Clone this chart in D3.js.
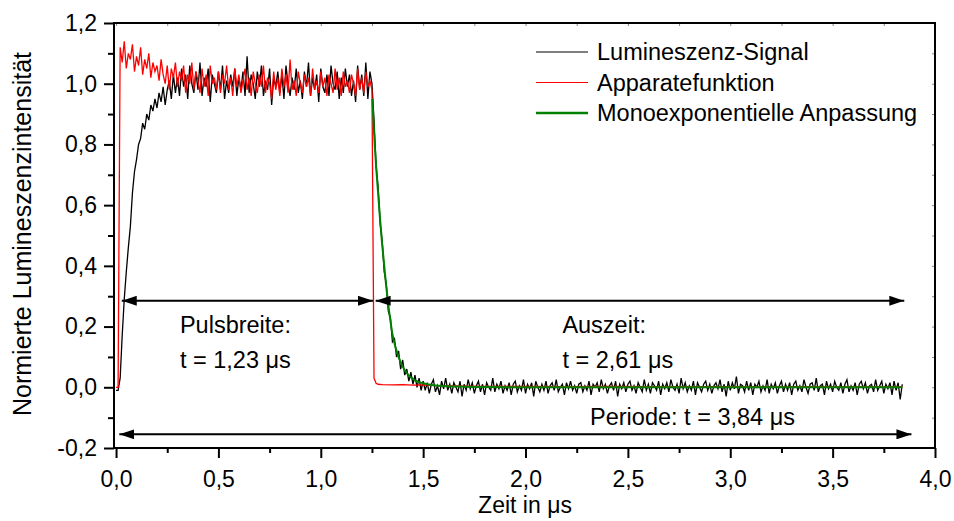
<!DOCTYPE html>
<html>
<head>
<meta charset="utf-8">
<script src="https://cdn.jsdelivr.net/npm/d3@7"></script>
<style>
    body { margin: 0; background: #fff; }
    svg { display: block; }
    text { font-family: "Liberation Sans", Arial, sans-serif; fill: #000; }
</style>
</head>
<body>
<svg id="chart" width="954" height="521"></svg>
<script>
// Abtastschritt der Messkurven (µs)
const timeStep = 0.01;

// Lumineszenz-Signal, t = 0,00 ... 3,84 µs
const signalValues = [
    -0.01, -0.01, 0.03, 0.17, 0.29, 0.38, 0.46, 0.53, 0.64, 0.71,
    0.75, 0.80, 0.82, 0.87, 0.85, 0.90, 0.88, 0.93, 0.91, 0.95,
    0.92, 0.97, 0.94, 0.99, 0.93, 0.98, 1.01, 0.95, 1.03, 0.97,
    1.02, 0.96, 1.05, 0.99, 1.03, 0.95, 1.06, 1.00, 0.97, 1.04,
    0.98, 1.07, 0.96, 1.02, 0.99, 1.05, 0.94, 1.03, 1.00, 0.97,
    1.04, 0.98, 1.06, 0.95, 1.01, 0.97, 1.03, 0.99, 1.05, 0.96,
    1.02, 0.98, 1.04, 0.96, 1.09, 0.97, 1.03, 1.00, 0.95, 1.04,
    0.99, 1.06, 0.96, 1.01, 0.98, 1.05, 0.93, 1.02, 0.99, 1.04,
    0.97, 1.03, 0.95, 1.06, 1.00, 0.96, 1.02, 0.98, 1.05, 0.97,
    1.01, 0.95, 1.04, 0.99, 1.07, 0.96, 1.02, 0.98, 1.03, 0.94,
    1.05, 0.99, 0.97, 1.03, 0.96, 1.06, 1.00, 0.98, 1.04, 0.95,
    1.02, 0.97, 1.05, 0.99, 1.03, 0.96, 1.01, 0.94, 1.06, 0.98,
    1.03, 0.96, 1.07, 0.95, 1.04, 1.00, 0.88, 0.73, 0.66, 0.54,
    0.48, 0.38, 0.34, 0.25, 0.23, 0.15, 0.16, 0.10, 0.12, 0.06,
    0.09, 0.04, 0.06, 0.02, 0.05, 0.01, 0.04, 0.00, 0.03, -0.01,
    0.02, -0.01, 0.015, -0.02, 0.01, 0.025, -0.015, 0.005, -0.025, 0.02,
    -0.005, 0.03, -0.01, 0.01, -0.02, 0.015, 0.0, -0.015, 0.02, -0.03,
    0.01, -0.01, 0.025, -0.005, 0.015, -0.02, 0.005, 0.02, -0.015, 0.01,
    -0.025, 0.015, 0.0, -0.01, 0.03, -0.015, 0.01, -0.005, 0.02, -0.02,
    0.005, -0.01, 0.015, -0.025, 0.01, 0.02, -0.015, 0.005, -0.01, 0.025,
    -0.02, 0.01, -0.005, 0.015, -0.03, 0.02, 0.0, -0.015, 0.01, -0.01,
    0.02, -0.02, 0.005, 0.015, -0.01, 0.025, -0.015, 0.0, 0.01, -0.025,
    0.015, -0.005, 0.02, -0.01, 0.005, -0.02, 0.01, 0.015, -0.015, 0.005,
    -0.01, 0.02, -0.025, 0.01, 0.0, 0.015, -0.015, 0.025, -0.005, 0.01,
    -0.02, 0.005, 0.015, -0.01, 0.02, -0.03, 0.01, -0.005, 0.015, -0.015,
    0.01, 0.02, -0.01, 0.005, -0.02, 0.015, 0.0, -0.015, 0.025, -0.01,
    0.01, -0.02, 0.015, 0.005, -0.01, 0.02, -0.025, 0.01, -0.005, 0.015,
    -0.015, 0.025, 0.0, -0.01, 0.01, -0.02, 0.03, -0.005, 0.015, -0.015,
    0.005, -0.01, 0.02, -0.025, 0.015, 0.0, -0.015, 0.01, 0.02, -0.01,
    0.01, -0.02, 0.005, 0.015, -0.005, 0.025, -0.015, 0.01, -0.03, 0.02,
    -0.01, 0.015, -0.005, 0.035, -0.02, 0.01, 0.005, -0.015, 0.02, -0.01,
    0.015, -0.025, 0.01, 0.0, 0.02, -0.015, 0.005, -0.01, 0.025, -0.02,
    0.01, -0.005, 0.015, -0.02, 0.005, 0.02, -0.015, 0.01, -0.01, 0.015,
    -0.025, 0.01, 0.02, -0.01, 0.005, -0.015, 0.025, 0.0, -0.02, 0.01,
    0.015, -0.01, 0.03, -0.015, 0.005, 0.01, -0.025, 0.02, -0.005, 0.01,
    -0.015, 0.02, 0.0, -0.01, 0.015, -0.02, 0.01, 0.025, -0.015, 0.005,
    -0.01, 0.015, -0.025, 0.01, 0.02, -0.005, 0.015, -0.02, 0.005, 0.01,
    -0.015, 0.025, -0.01, 0.005, 0.02, -0.02, 0.01, -0.005, 0.015, -0.025,
    0.02, -0.01, 0.015, -0.04, 0.01
];

// Apparatefunktion, t = 0,00 ... 1,25 µs
const apparatusValues = [
    0.0, 0.0, 1.12, 1.07, 1.14, 1.05, 1.10, 1.08, 1.13, 1.04,
    1.09, 1.06, 1.12, 1.03, 1.08, 1.05, 1.10, 1.02, 1.07, 1.04,
    1.06, 1.01, 1.08, 1.03, 1.00, 1.06, 0.98, 1.05, 1.02, 1.07,
    0.99, 1.04, 1.01, 1.06, 0.97, 1.03, 1.00, 1.07, 0.98, 1.04,
    1.01, 0.97, 1.05, 0.99, 1.03, 0.96, 1.06, 1.00, 1.02, 0.98,
    1.04, 0.97, 1.03, 1.00, 1.06, 0.98, 1.02, 0.96, 1.05, 0.99,
    1.03, 0.97, 1.01, 1.05, 0.98, 1.02, 0.96, 1.04, 1.00, 0.97,
    1.03, 0.99, 1.06, 0.97, 1.02, 1.00, 0.95, 1.04, 0.98, 1.02,
    0.96, 1.05, 0.99, 1.03, 0.97, 1.08, 0.98, 1.01, 0.96, 1.04,
    1.00, 0.97, 1.03, 0.99, 1.02, 0.96, 1.05, 0.98, 1.01, 0.97,
    1.04, 0.99, 1.02, 0.96, 1.03, 1.00, 0.97, 1.05, 0.98, 1.02,
    0.96, 1.04, 0.99, 1.01, 0.97, 1.03, 1.00, 0.96, 1.05, 0.98,
    1.02, 0.97, 1.04, 0.99, 1.01, 0.98
];
// Abfall der Apparatefunktion nach dem Puls
const apparatusTailTimes = [1.26, 1.27, 1.28, 1.30, 1.35, 1.40, 1.45, 1.50, 1.55, 1.60, 1.70, 1.80, 2.0, 2.2, 2.4, 2.6, 2.8, 3.0, 3.2, 3.4, 3.6, 3.84];
const apparatusTailValues = [0.03, 0.013, 0.010, 0.009, 0.008, 0.009, 0.007, 0.008, 0.006, 0.005, 0.004, 0.003, 0.003, 0.002, 0.003, 0.002, 0.002, 0.002, 0.001, 0.002, 0.001, 0.001];

// Monoexponentielle Anpassung
const fitTimes = [1.252, 1.26, 1.27, 1.28, 1.29, 1.30, 1.31, 1.32, 1.33, 1.34, 1.35, 1.36, 1.37, 1.38, 1.39, 1.40, 1.42, 1.44, 1.46, 1.48, 1.50, 1.55, 1.60, 1.70, 1.80, 2.0, 3.84];
const fitValues = [0.95, 0.84, 0.73, 0.64, 0.55, 0.47, 0.40, 0.33, 0.27, 0.22, 0.175, 0.145, 0.12, 0.10, 0.082, 0.068, 0.047, 0.032, 0.023, 0.017, 0.013, 0.007, 0.004, 0.002, 0.001, 0.0, 0.0];

const xTickValues = [0, 0.5, 1.0, 1.5, 2.0, 2.5, 3.0, 3.5, 4.0];
const xMinorTicks = [0.25, 0.75, 1.25, 1.75, 2.25, 2.75, 3.25, 3.75];
const yTickValues = [-0.2, 0, 0.2, 0.4, 0.6, 0.8, 1.0, 1.2];
const yMinorTicks = [-0.1, 0.1, 0.3, 0.5, 0.7, 0.9, 1.1];

const seriesNames = ['Lumineszenz-Signal', 'Apparatefunktion', 'Monoexponentielle Anpassung'];
const seriesColors = ['#000000', '#ff0000', '#008000'];

const width = 954;
const height = 521;
const plot = { left: 114, right: 935, top: 23, bottom: 448 };
const fontSize = 23;

const svg = d3.select('#chart');
svg.append('rect').attr('width', width).attr('height', height).attr('fill', '#fff');

const x = d3.scaleLinear().domain([-0.01, 4.0]).range([plot.left, plot.right]);
const y = d3.scaleLinear().domain([-0.2, 1.2]).range([plot.bottom, plot.top]);

// Dezimalkomma wie im Original
const de = d3.formatLocale({ decimal: ',', thousands: '.', grouping: [3], currency: ['', ' €'], minus: '-' });
const fmt = de.format('.1f');

// Achsen
function styleAxis(g) {
    g.select('.domain').remove();
    g.selectAll('line').attr('stroke', '#000').attr('stroke-width', 2);
    g.selectAll('text').style('font-size', fontSize + 'px').attr('fill', '#000');
}

svg.append('g')
    .attr('transform', `translate(0,${plot.bottom})`)
    .call(d3.axisBottom(x).tickValues(xTickValues).tickSize(10).tickSizeOuter(0).tickPadding(13).tickFormat(fmt))
    .call(styleAxis);
svg.append('g')
    .attr('transform', `translate(0,${plot.bottom})`)
    .call(d3.axisBottom(x).tickValues(xMinorTicks).tickSize(5).tickSizeOuter(0).tickFormat(''))
    .call(styleAxis);
svg.append('g')
    .attr('transform', `translate(${plot.left},0)`)
    .call(d3.axisLeft(y).tickValues(yTickValues).tickSize(10).tickSizeOuter(0).tickPadding(7).tickFormat(fmt))
    .call(styleAxis);
svg.append('g')
    .attr('transform', `translate(${plot.left},0)`)
    .call(d3.axisLeft(y).tickValues(yMinorTicks).tickSize(6).tickSizeOuter(0).tickFormat(''))
    .call(styleAxis);

// feine Striche innen an oberer und rechter Achse
svg.append('g')
    .attr('transform', `translate(0,${plot.top})`)
    .call(d3.axisTop(x).tickValues(xTickValues.concat(xMinorTicks)).tickSize(-3).tickSizeOuter(0).tickFormat(''))
    .call(g => g.select('.domain').remove())
    .call(g => g.selectAll('line').attr('stroke', '#888').attr('stroke-width', 1));
svg.append('g')
    .attr('transform', `translate(${plot.right},0)`)
    .call(d3.axisRight(y).tickValues(yTickValues.concat(yMinorTicks)).tickSize(-3).tickSizeOuter(0).tickFormat(''))
    .call(g => g.select('.domain').remove())
    .call(g => g.selectAll('line').attr('stroke', '#888').attr('stroke-width', 1));

// Rahmen
svg.append('rect')
    .attr('x', plot.left)
    .attr('y', plot.top)
    .attr('width', plot.right - plot.left)
    .attr('height', plot.bottom - plot.top)
    .attr('fill', 'none')
    .attr('stroke', '#000')
    .attr('stroke-width', 2);

// Achsentitel
svg.append('text')
    .attr('x', 525)
    .attr('y', 513)
    .attr('text-anchor', 'middle')
    .style('font-size', fontSize + 'px')
    .text('Zeit in μs');
svg.append('text')
    .attr('transform', 'translate(31,234) rotate(-90)')
    .attr('text-anchor', 'middle')
    .style('font-size', '25px')
    .text('Normierte Lumineszenzintensität');

// Kurven
const line = d3.line().x(d => x(d[0])).y(d => y(d[1]));

const signalData = signalValues.map((v, i) => [i * timeStep, v]);
const apparatusData = apparatusValues.map((v, i) => [i * timeStep, v])
    .concat(apparatusTailTimes.map((t, i) => [t, apparatusTailValues[i]]));
const fitData = fitTimes.map((t, i) => [t, fitValues[i]]);

svg.append('path')
    .datum(signalData)
    .attr('d', line)
    .attr('fill', 'none')
    .attr('stroke', seriesColors[0])
    .attr('stroke-width', 1.3)
    .attr('stroke-linejoin', 'miter');

svg.append('path')
    .datum(apparatusData)
    .attr('d', line)
    .attr('fill', 'none')
    .attr('stroke', seriesColors[1])
    .attr('stroke-width', 1.3);

svg.append('path')
    .datum(fitData)
    .attr('d', line.curve(d3.curveMonotoneX))
    .attr('fill', 'none')
    .attr('stroke', seriesColors[2])
    .attr('stroke-width', 2);

// Pfeile
svg.append('defs')
    .append('marker')
    .attr('id', 'arrowHead')
    .attr('viewBox', '0 0 15 10')
    .attr('refX', 15)
    .attr('refY', 5)
    .attr('markerWidth', 15)
    .attr('markerHeight', 10)
    .attr('markerUnits', 'userSpaceOnUse')
    .attr('orient', 'auto-start-reverse')
    .append('path')
    .attr('d', 'M0,0 L15,5 L0,10 Z')
    .attr('fill', '#000');

const arrowSpans = [
    { from: 0.028, to: 1.255, level: 0.285 },
    { from: 1.268, to: 3.85, level: 0.285 },
    { from: 0.016, to: 3.885, level: -0.155 }
];

svg.selectAll('.span-arrow')
    .data(arrowSpans)
    .enter()
    .append('line')
    .attr('class', 'span-arrow')
    .attr('x1', d => x(d.from))
    .attr('x2', d => x(d.to))
    .attr('y1', d => y(d.level))
    .attr('y2', d => y(d.level))
    .attr('stroke', '#000')
    .attr('stroke-width', 2)
    .attr('marker-start', 'url(#arrowHead)')
    .attr('marker-end', 'url(#arrowHead)');

// Beschriftungen
const notes = [
    { t: 0.312, v: 0.18, text: 'Pulsbreite:' },
    { t: 0.312, v: 0.064, text: 't = 1,23 μs' },
    { t: 2.18, v: 0.18, text: 'Auszeit:' },
    { t: 2.18, v: 0.064, text: 't = 2,61 μs' },
    { t: 2.315, v: -0.124, text: 'Periode: t = 3,84 μs' }
];

svg.selectAll('.note')
    .data(notes)
    .enter()
    .append('text')
    .attr('class', 'note')
    .attr('x', d => x(d.t))
    .attr('y', d => y(d.v))
    .style('font-size', '23.5px')
    .text(d => d.text);

// Legende
const legend = svg.append('g').attr('transform', 'translate(536,52)');
seriesNames.forEach((name, i) => {
    legend.append('line')
        .attr('x1', 0)
        .attr('x2', 52)
        .attr('y1', i * 30.5)
        .attr('y2', i * 30.5)
        .attr('stroke', seriesColors[i])
        .attr('stroke-width', i === 2 ? 2.5 : 1.2);
    legend.append('text')
        .attr('x', 61)
        .attr('y', i * 30.5 + 8)
        .style('font-size', '23.5px')
        .text(name);
});
</script>
</body>
</html>
